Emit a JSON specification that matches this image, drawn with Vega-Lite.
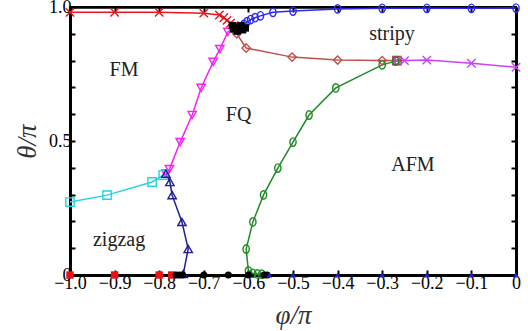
{
  "$schema": "https://vega.github.io/schema/vega-lite/v6.json",
  "autosize": {"type": "none"},
  "width": 446,
  "height": 268,
  "padding": {"left": 70, "top": 7, "right": 12, "bottom": 56},
  "background": "white",
  "config": {
    "view": {"stroke": "black", "strokeWidth": 2},
    "font": "Liberation Serif"
  },
  "datasets": {
    "pts": [
      {"s": "redX", "i": 1, "x": -1.0, "y": 0.98},
      {"s": "redX", "i": 2, "x": -0.9, "y": 0.98},
      {"s": "redX", "i": 3, "x": -0.8, "y": 0.98},
      {"s": "redX", "i": 4, "x": -0.7, "y": 0.977},
      {"s": "redX", "i": 5, "x": -0.665, "y": 0.97},
      {"s": "redX", "i": 6, "x": -0.655, "y": 0.96},
      {"s": "redX", "i": 7, "x": -0.648, "y": 0.95},
      {"s": "redX", "i": 8, "x": -0.64, "y": 0.94},
      {"s": "redX", "i": 9, "x": -0.632, "y": 0.93},
      {"s": "blue", "i": 1, "x": -0.622, "y": 0.925},
      {"s": "blue", "i": 2, "x": -0.61, "y": 0.935},
      {"s": "blue", "i": 3, "x": -0.603, "y": 0.945},
      {"s": "blue", "i": 4, "x": -0.595, "y": 0.953},
      {"s": "blue", "i": 5, "x": -0.585, "y": 0.96},
      {"s": "blue", "i": 6, "x": -0.573, "y": 0.967},
      {"s": "blue", "i": 7, "x": -0.545, "y": 0.98},
      {"s": "blue", "i": 8, "x": -0.5, "y": 0.985},
      {"s": "blue", "i": 9, "x": -0.4, "y": 0.993},
      {"s": "blue", "i": 10, "x": -0.3, "y": 0.995},
      {"s": "blue", "i": 11, "x": -0.2, "y": 0.995},
      {"s": "blue", "i": 12, "x": -0.1, "y": 0.995},
      {"s": "blue", "i": 13, "x": 0.0, "y": 0.996},
      {"s": "brown", "i": 1, "x": -0.625, "y": 0.915},
      {"s": "brown", "i": 2, "x": -0.626, "y": 0.9},
      {"s": "brown", "i": 3, "x": -0.605, "y": 0.847},
      {"s": "brown", "i": 4, "x": -0.502, "y": 0.813},
      {"s": "brown", "i": 5, "x": -0.4, "y": 0.802},
      {"s": "brown", "i": 6, "x": -0.3, "y": 0.8},
      {"s": "brown", "i": 7, "x": -0.267, "y": 0.8},
      {"s": "brownSq", "i": 1, "x": -0.267, "y": 0.8},
      {"s": "magX", "i": 1, "x": -0.267, "y": 0.8},
      {"s": "magX", "i": 2, "x": -0.25, "y": 0.8},
      {"s": "magX", "i": 3, "x": -0.2, "y": 0.802},
      {"s": "magX", "i": 4, "x": -0.1, "y": 0.79},
      {"s": "magX", "i": 5, "x": 0.0, "y": 0.775},
      {"s": "green", "i": 1, "x": -0.57, "y": 0.003},
      {"s": "green", "i": 2, "x": -0.58, "y": 0.004},
      {"s": "green", "i": 3, "x": -0.59, "y": 0.006},
      {"s": "green", "i": 4, "x": -0.6, "y": 0.015},
      {"s": "green", "i": 5, "x": -0.605, "y": 0.097},
      {"s": "green", "i": 6, "x": -0.59, "y": 0.198},
      {"s": "green", "i": 7, "x": -0.566, "y": 0.299},
      {"s": "green", "i": 8, "x": -0.534, "y": 0.399},
      {"s": "green", "i": 9, "x": -0.5, "y": 0.496},
      {"s": "green", "i": 10, "x": -0.464, "y": 0.597},
      {"s": "green", "i": 11, "x": -0.404, "y": 0.698},
      {"s": "green", "i": 12, "x": -0.3, "y": 0.784},
      {"s": "green", "i": 13, "x": -0.27, "y": 0.798},
      {"s": "magTri", "i": 1, "x": -0.785, "y": 0.378},
      {"s": "magTri", "i": 2, "x": -0.777, "y": 0.395},
      {"s": "magTri", "i": 3, "x": -0.753, "y": 0.496},
      {"s": "magTri", "i": 4, "x": -0.726, "y": 0.597},
      {"s": "magTri", "i": 5, "x": -0.706, "y": 0.698},
      {"s": "magTri", "i": 6, "x": -0.679, "y": 0.795},
      {"s": "magTri", "i": 7, "x": -0.664, "y": 0.843},
      {"s": "magTri", "i": 8, "x": -0.646, "y": 0.907},
      {"s": "magTri", "i": 9, "x": -0.632, "y": 0.925},
      {"s": "cyan", "i": 1, "x": -1.0, "y": 0.272},
      {"s": "cyan", "i": 2, "x": -0.917, "y": 0.298},
      {"s": "cyan", "i": 3, "x": -0.816, "y": 0.347},
      {"s": "cyan", "i": 4, "x": -0.791, "y": 0.373},
      {"s": "navy", "i": 1, "x": -0.785, "y": 0.378},
      {"s": "navy", "i": 2, "x": -0.776, "y": 0.347},
      {"s": "navy", "i": 3, "x": -0.771, "y": 0.298},
      {"s": "navy", "i": 4, "x": -0.749, "y": 0.198},
      {"s": "navy", "i": 5, "x": -0.735, "y": 0.097},
      {"s": "navy", "i": 6, "x": -0.746, "y": 0.004},
      {"s": "redF", "i": 1, "x": -1.0, "y": 0},
      {"s": "redF", "i": 2, "x": -0.9, "y": 0},
      {"s": "redF", "i": 3, "x": -0.8, "y": 0},
      {"s": "redF", "i": 4, "x": -0.772, "y": 0},
      {"s": "blackF", "i": 1, "x": -0.762, "y": 0},
      {"s": "blackF", "i": 2, "x": -0.755, "y": 0},
      {"s": "blackF", "i": 3, "x": -0.748, "y": 0},
      {"s": "blackF", "i": 4, "x": -0.7, "y": 0},
      {"s": "blackF", "i": 5, "x": -0.645, "y": 0},
      {"s": "blackF", "i": 6, "x": -0.6, "y": 0},
      {"s": "blackF", "i": 7, "x": -0.565, "y": 0},
      {"s": "blackF", "i": 8, "x": -0.558, "y": 0},
      {"s": "blueF", "i": 1, "x": -0.553, "y": 0},
      {"s": "blueF", "i": 2, "x": -0.5, "y": 0},
      {"s": "blueF", "i": 3, "x": -0.4, "y": 0},
      {"s": "blueF", "i": 4, "x": -0.3, "y": 0},
      {"s": "blueF", "i": 5, "x": -0.2, "y": 0},
      {"s": "blueF", "i": 6, "x": -0.1, "y": 0},
      {"s": "blueF", "i": 7, "x": 0.0, "y": 0},
      {"s": "blackSq", "i": 1, "x": -0.636, "y": 0.93},
      {"s": "blackSq", "i": 2, "x": -0.628, "y": 0.925},
      {"s": "blackSq", "i": 3, "x": -0.62, "y": 0.92},
      {"s": "blackSq", "i": 4, "x": -0.613, "y": 0.915},
      {"s": "blackSq", "i": 5, "x": -0.625, "y": 0.91},
      {"s": "blackSq", "i": 6, "x": -0.633, "y": 0.918},
      {"s": "blackSq", "i": 7, "x": -0.617, "y": 0.93},
      {"s": "blackSq", "i": 8, "x": -0.607, "y": 0.922}
    ],
    "labels": [
      {"t": "FM", "x": -0.879, "y": 0.765},
      {"t": "FQ", "x": -0.622, "y": 0.597},
      {"t": "stripy", "x": -0.278, "y": 0.9},
      {"t": "AFM", "x": -0.231, "y": 0.41},
      {"t": "zigzag", "x": -0.89, "y": 0.13}
    ]
  },
  "resolve": {"axis": {"x": "independent", "y": "independent"}},
  "layer": [
    {
      "data": {"name": "pts"},
      "transform": [{"filter": {"field": "s", "oneOf": ["redX", "blue", "brown", "magX", "green", "magTri", "cyan", "navy"]}}],
      "mark": {"type": "line", "strokeWidth": 1.5, "clip": false},
      "encoding": {
        "x": {"field": "x", "type": "quantitative",
          "scale": {"domain": [-1, 0], "nice": false, "zero": false},
          "axis": {"orient": "bottom", "values": [-1, -0.9, -0.8, -0.7, -0.6, -0.5, -0.4, -0.3, -0.2, -0.1, 0],
            "labelExpr": "datum.value == 0 ? '0' : format(datum.value, '.1f')",
            "title": "φ/π", "titleFont": "Liberation Serif", "titleFontStyle": "italic", "titleFontWeight": "normal", "titleFontSize": 27, "titleColor": "#333",
            "titlePadding": 10,
            "labelFont": "Liberation Serif", "labelFontSize": 18, "labelColor": "black", "labelPadding": 4,
            "tickSize": -5, "tickWidth": 2, "tickColor": "black",
            "domainColor": "black", "domainWidth": 3, "grid": false, "labelFlush": false, "labelOverlap": false}},
        "y": {"field": "y", "type": "quantitative",
          "scale": {"domain": [0, 1], "nice": false},
          "axis": {"orient": "left", "values": [0, 0.1, 0.2, 0.3, 0.4, 0.5, 0.6, 0.7, 0.8, 0.9, 1],
            "labelExpr": "datum.value == 0 ? '0' : datum.value == 0.5 ? '0.5' : datum.value == 1 ? '1.0' : ''",
            "title": "θ/π", "titleFont": "Liberation Serif", "titleFontStyle": "italic", "titleFontWeight": "normal", "titleFontSize": 27, "titleColor": "#333",
            "titlePadding": 7,
            "labelFont": "Liberation Serif", "labelFontSize": 18, "labelColor": "black", "labelPadding": 4,
            "tickSize": -5, "tickWidth": 2, "tickColor": "black",
            "domainColor": "black", "domainWidth": 3, "grid": false, "labelFlush": false, "labelOverlap": false}},
        "color": {"field": "s", "type": "nominal", "legend": null,
          "scale": {"domain": ["redX", "blue", "brown", "brownSq", "magX", "green", "magTri", "cyan", "navy", "redF", "blackF", "blueF", "blackSq"],
            "range": ["#e8161c", "#2a2af5", "#c0504a", "#a8403c", "#c843f2", "#1f8a24", "#f522f5", "#25d3e3", "#1e1e90", "#ee1111", "#000000", "#2222c8", "#000000"]}},
        "detail": {"field": "s"},
        "order": {"field": "i", "type": "quantitative"}
      }
    },
    {
      "data": {"name": "pts"},
      "transform": [{"filter": {"field": "s", "oneOf": ["redX", "blue", "brown", "brownSq", "magX", "green", "magTri", "cyan", "navy"]}}],
      "mark": {"type": "point", "filled": false, "strokeWidth": 1.4, "opacity": 1, "clip": false},
      "encoding": {
        "x": {"field": "x", "type": "quantitative",
          "axis": {"orient": "top", "values": [-1, -0.9, -0.8, -0.7, -0.6, -0.5, -0.4, -0.3, -0.2, -0.1, 0], "labels": false, "title": null,
            "tickSize": -5, "tickWidth": 2, "tickColor": "black", "domainColor": "black", "domainWidth": 2.5, "grid": false}},
        "y": {"field": "y", "type": "quantitative",
          "axis": {"orient": "right", "values": [0, 0.1, 0.2, 0.3, 0.4, 0.5, 0.6, 0.7, 0.8, 0.9, 1], "labels": false, "title": null,
            "tickSize": -5, "tickWidth": 2, "tickColor": "black", "domainColor": "black", "domainWidth": 3, "grid": false}},
        "color": {"field": "s", "type": "nominal", "legend": null},
        "shape": {"field": "s", "type": "nominal", "legend": null,
          "scale": {"domain": ["redX", "blue", "brown", "brownSq", "magX", "green", "magTri", "cyan", "navy", "redF", "blackF", "blueF", "blackSq"],
            "range": ["M-1,-1L1,1M-1,1L1,-1", "M0,-1A0.75,1,0,1,1,0,1A0.75,1,0,1,1,0,-1Z", "diamond", "square", "M-1,-1L1,1M-1,1L1,-1", "M0,-1A0.75,1,0,1,1,0,1A0.75,1,0,1,1,0,-1Z", "triangle-down", "square", "triangle-up", "square", "circle", "triangle-up", "square"]}},
        "size": {"value": 70}
      }
    },
    {
      "data": {"name": "pts"},
      "transform": [{"filter": {"field": "s", "oneOf": ["redF", "blackSq"]}}],
      "mark": {"type": "square", "filled": true, "opacity": 1, "clip": false, "size": 55},
      "encoding": {
        "x": {"field": "x", "type": "quantitative", "axis": null},
        "y": {"field": "y", "type": "quantitative", "axis": null},
        "color": {"field": "s", "type": "nominal", "legend": null}
      }
    },
    {
      "data": {"name": "pts"},
      "transform": [{"filter": {"field": "s", "equal": "blackF"}}],
      "mark": {"type": "circle", "opacity": 1, "clip": false, "size": 50},
      "encoding": {
        "x": {"field": "x", "type": "quantitative", "axis": null},
        "y": {"field": "y", "type": "quantitative", "axis": null},
        "color": {"field": "s", "type": "nominal", "legend": null}
      }
    },
    {
      "data": {"name": "pts"},
      "transform": [{"filter": {"field": "s", "equal": "blueF"}}],
      "mark": {"type": "point", "shape": "triangle-up", "filled": true, "opacity": 1, "clip": false, "size": 35},
      "encoding": {
        "x": {"field": "x", "type": "quantitative", "axis": null},
        "y": {"field": "y", "type": "quantitative", "axis": null},
        "color": {"field": "s", "type": "nominal", "legend": null}
      }
    },
    {
      "data": {"name": "labels"},
      "mark": {"type": "text", "font": "Liberation Serif", "fontSize": 20, "color": "#222", "align": "center", "baseline": "middle"},
      "encoding": {
        "x": {"field": "x", "type": "quantitative", "axis": null},
        "y": {"field": "y", "type": "quantitative", "axis": null},
        "text": {"field": "t"}
      }
    }
  ]
}
